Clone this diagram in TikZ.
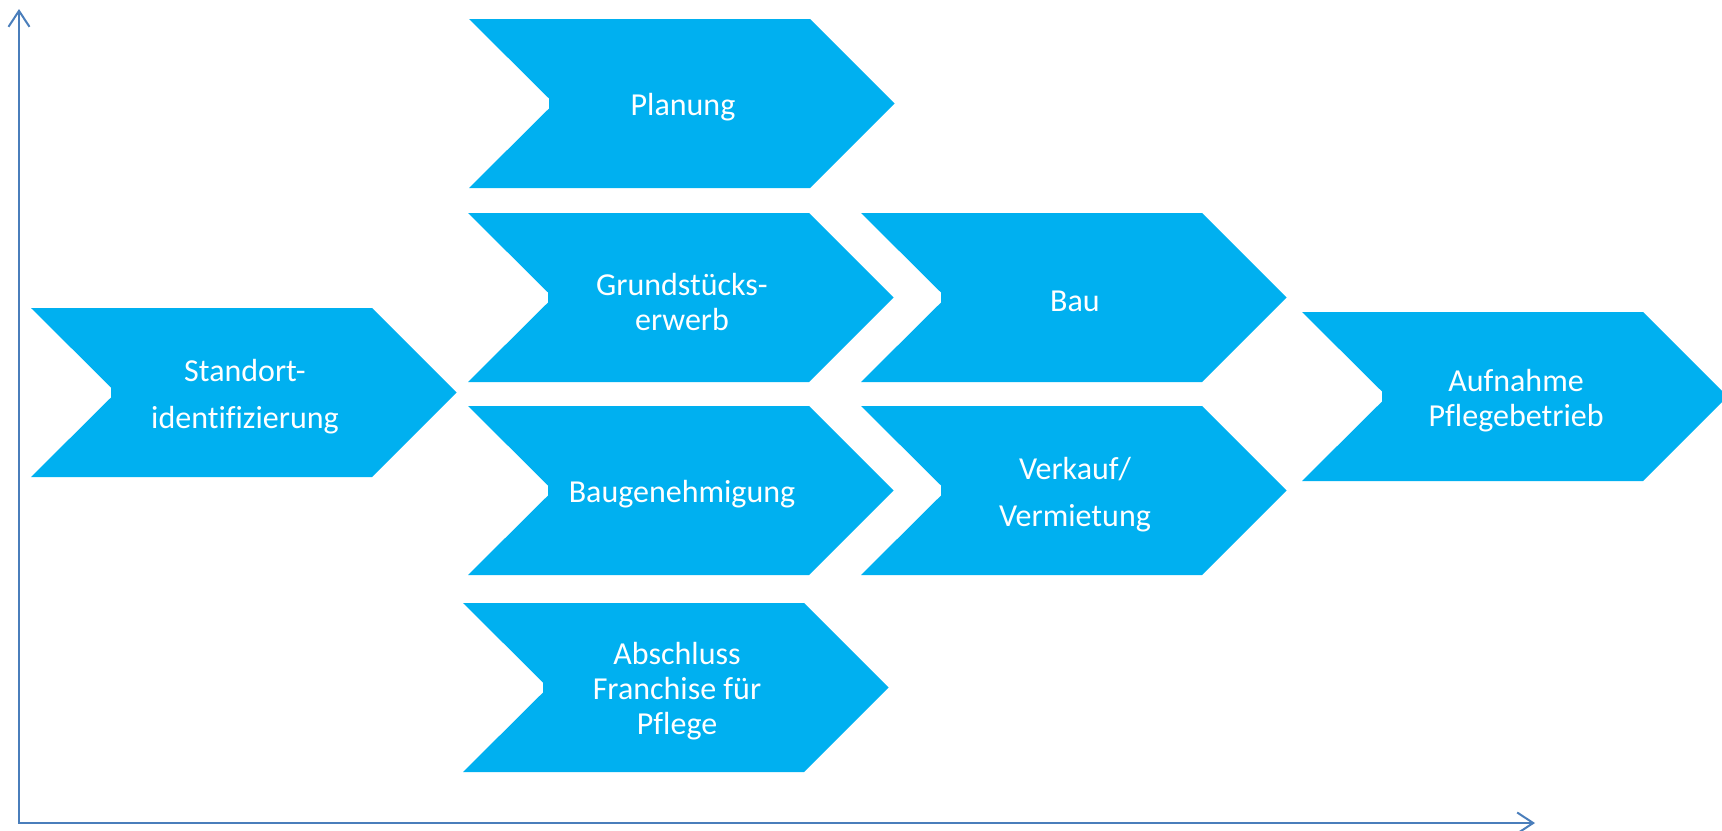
\documentclass[tikz,border=0pt]{standalone}
\usepackage{fontspec}
\setmainfont{Carlito}[Ligatures=NoCommon]
\usetikzlibrary{arrows.meta}

\definecolor{chevfill}{HTML}{00B0F0}
\definecolor{axisblue}{HTML}{4A7EBB}

\tikzset{
  chevshape/.style={fill=chevfill},
  chevlabel/.style={text=white, align=center, inner sep=0pt,
    font=\fontsize{16}{17.5}\selectfont},
  widelines/.style={font=\fontsize{16}{23.5}\selectfont},
  axisbarb/.tip={Straight Barb[length=8pt,width=10.5pt,line width=1pt]},
  axisline/.style={draw=axisblue, line width=1pt, line join=miter},
}

% chevron: [label style] {name} {left x} {top y} {text}
\newcommand\chevron[5][]{%
  \fill[chevshape] (#3,#4) -- ++(341,0) -- ++(84.5,84.5) -- ++(-84.5,84.5)
    -- ++(-341,0) -- ++(80,-79.5) -- ++(0,-10) -- cycle;
  \node[chevlabel,#1] (#2) at (#3+214,#4+88.5) {#5};
}

\begin{document}
\begin{tikzpicture}[x=0.5pt,y=-0.5pt]
  \useasboundingbox (0,0) rectangle (1722,830);

  % axes
  \coordinate (origin) at (19,823);
  \coordinate (ytop) at (19,9);
  \coordinate (xend) at (1535,823);
  \draw[axisline, axisbarb-axisbarb] (ytop) -- (origin) -- (xend);

  % process steps
  \chevron[widelines]{standort}{31}{308}{Standort-\\identifizierung}
  \chevron{planung}{469}{19}{Planung}
  \chevron{grundstueck}{468}{213}{Grundstücks-\\erwerb}
  \chevron{baugenehmigung}{468}{406}{Baugenehmigung}
  \chevron{franchise}{463}{603}{Abschluss\\Franchise für\\Pflege}
  \chevron{bau}{861}{213}{Bau}
  \chevron[widelines]{verkauf}{861}{406}{Verkauf/\\Vermietung}
  \chevron{aufnahme}{1302}{312}{Aufnahme\\Pflegebetrieb}
\end{tikzpicture}
\end{document}
